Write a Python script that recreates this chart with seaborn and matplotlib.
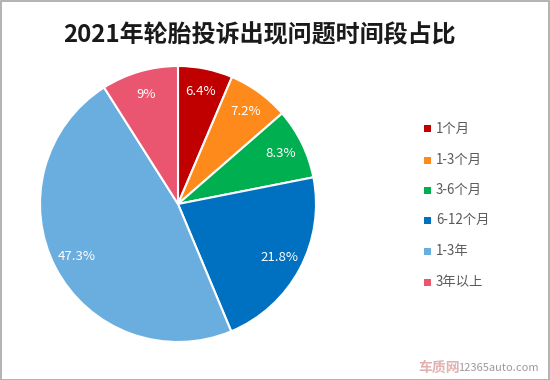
import matplotlib
matplotlib.use("Agg")
import matplotlib.pyplot as plt
import seaborn as sns
from matplotlib.patches import Rectangle

sns.set_theme(style="white")
plt.rcParams['font.family'] = ['Noto Sans CJK SC', 'DejaVu Sans']

title = "2021年轮胎投诉出现问题时间段占比"
categories = ["1个月", "1-3个月", "3-6个月", "6-12个月", "1-3年", "3年以上"]
values = [6.4, 7.2, 8.3, 21.8, 47.3, 9]
colors = ["#C00000", "#FF8A1C", "#00B050", "#0070C0", "#6AAEE0", "#EA5670"]

fig = plt.figure(figsize=(5.5, 3.8), dpi=100)
fig.patch.set_facecolor("white")
fig.patches.append(Rectangle((0.001, 0.001), 0.997, 0.997, transform=fig.transFigure,
                             fill=False, edgecolor="#A6A6A6", linewidth=1.2))

cx, cy, r = 178, 204, 138
ax = fig.add_axes([(cx - r) / 550, (380 - cy - r) / 380, 2 * r / 550, 2 * r / 380])
wedges, texts = ax.pie(values, colors=colors, startangle=90, counterclock=False,
                       labels=[f"{v:g}%" for v in values], labeldistance=0.83,
                       wedgeprops=dict(edgecolor="white", linewidth=1.5),
                       textprops=dict(color="white", fontsize=9.5))
for t in texts:
    t.set_horizontalalignment("center")
    t.set_verticalalignment("center")
ax.set_aspect("auto")
ax.set_xlim(-1, 1)
ax.set_ylim(-1, 1)
ax.axis("off")

fig.text(260 / 550, 1 - 35 / 380, title, ha="center", va="center", fontsize=17.3,
         fontweight="bold", color="#1a1a1a")

ys = [129, 160, 190, 220, 251, 282]
for c, lab, y in zip(colors, categories, ys):
    fig.patches.append(Rectangle((424 / 550, 1 - (y + 3.5) / 380), 7 / 550, 7 / 380,
                                 transform=fig.transFigure, facecolor=c, edgecolor="none"))
    fig.text(436 / 550, 1 - y / 380, lab, ha="left", va="center", fontsize=9.6, color="#595959")

fig.text(418 / 550, 1 - 368 / 380, "车质网", ha="left", va="center", fontsize=10,
         fontweight="bold", color="#d9a0a0", alpha=0.8)
fig.text(458 / 550, 1 - 368 / 380, "12365auto.com", ha="left", va="center", fontsize=8,
         color="#9a9a9a")

fig.savefig("out.png", dpi=100)
